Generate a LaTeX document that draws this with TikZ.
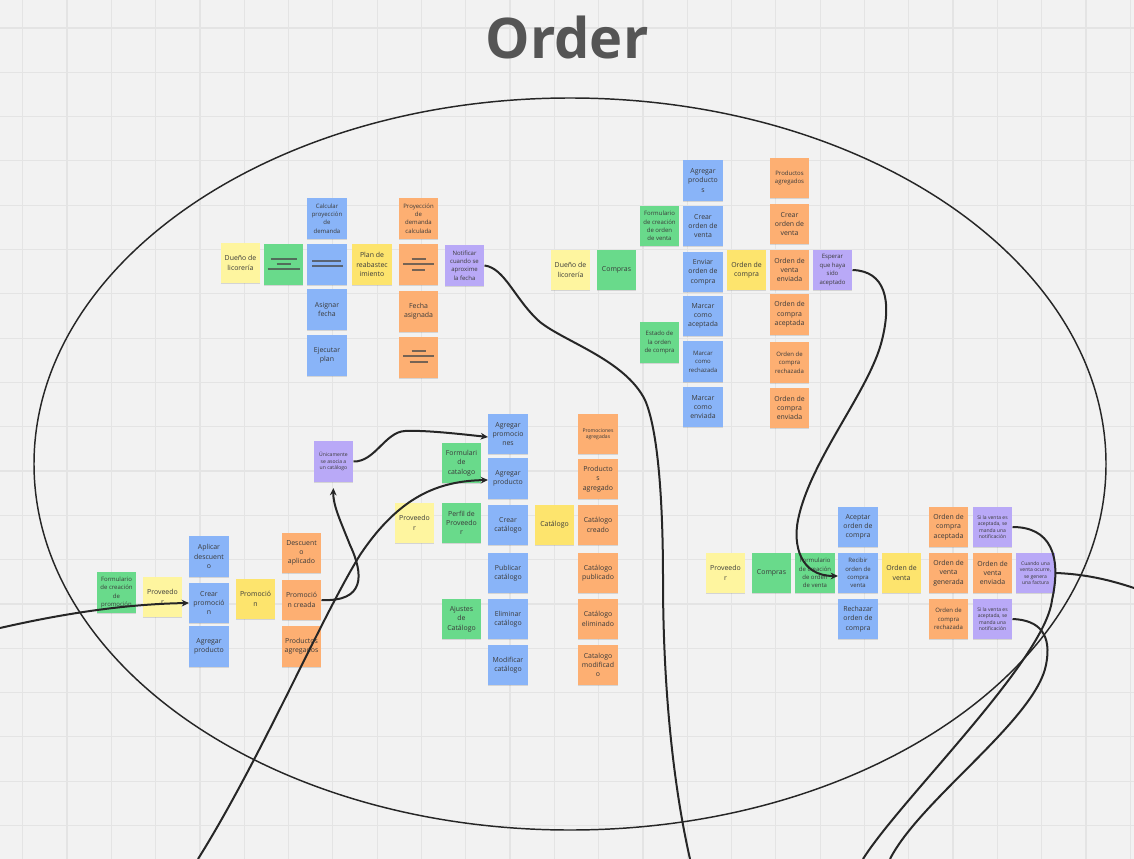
\documentclass[tikz,border=0pt]{standalone}
\usepackage{fontspec}
\setmainfont{Open Sans}
\usetikzlibrary{arrows.meta,calc,shadows}
\definecolor{bgc}{HTML}{F2F2F2}
\definecolor{gridc}{HTML}{E4E4E4}
\definecolor{titlec}{HTML}{555555}
\definecolor{txt}{HTML}{3A3A3A}
\definecolor{lyel}{HTML}{FEF59F}
\definecolor{yel}{HTML}{FDE46D}
\definecolor{grn}{HTML}{69DA8B}
\definecolor{blu}{HTML}{89B4F8}
\definecolor{ora}{HTML}{FDAF72}
\definecolor{pur}{HTML}{B9A9F7}
\definecolor{linec}{HTML}{262626}
\definecolor{iconc}{HTML}{4A4A4A}
\newcommand\stkN{\fontsize{5.2}{7}\selectfont}
\newcommand\stkS{\fontsize{4.5}{6.3}\selectfont}
\newcommand\stkT{\fontsize{3.8}{4.8}\selectfont}
\begin{document}
\begin{tikzpicture}[x=0.75pt,y=-0.75pt,
  stk/.style={rectangle, minimum width=29.6pt, minimum height=30.4pt, inner sep=0pt, align=center, text=txt, font=\stkN,
    drop shadow={shadow xshift=0pt, shadow yshift=-0.7pt, opacity=0.12, fill=black}},
  sm/.style={font=\stkS},
  tn/.style={font=\stkT},
  ly/.style={stk, fill=lyel},
  ye/.style={stk, fill=yel},
  gr/.style={stk, fill=grn},
  bl/.style={stk, fill=blu},
  or/.style={stk, fill=ora},
  pu/.style={stk, fill=pur},
  gridl/.style={draw=gridc, line width=0.9pt},
  iconl/.style={draw=iconc, line width=1.5pt, opacity=0.75},
  conn/.style={draw=linec, line width=1.5pt},
  arr/.style={conn, -{Stealth[length=5.5pt,width=5pt]}}
]
\fill[bgc] (0,0) rectangle (1134,859);
\useasboundingbox (0,0) rectangle (1134,859);
\clip (0,0) rectangle (1134,859);
\foreach \k in {0,...,25} \draw[gridl] ({22.7+44.3*\k},0) -- ({22.7+44.3*\k},859);
\foreach \k in {0,...,18} \draw[gridl] (0,{28+44.3*\k}) -- (1134,{28+44.3*\k});

\node[font=\fontsize{42}{42}\selectfont\bfseries, text=titlec, anchor=base, inner sep=0pt] (title) at (567,59) {Order};

\draw[draw=linec, line width=1.1pt] (570,464) ellipse [x radius=402pt, y radius=274.5pt];

% ---- top-left cluster
\node[ly] (dueno1) at (240.5,263) {Dueño de\\licorería};
\node[gr] (ic1) at (283.5,264.5) {};
\node[bl, sm] (calc) at (327,218.5) {Calcular\\proyección\\de\\demanda};
\node[bl] (ic2) at (327,264.5) {};
\node[bl] (asig) at (327,309.5) {Asignar\\fecha};
\node[bl] (ejec) at (327,355.5) {Ejecutar\\plan};
\node[ye] (plan) at (372,264.5) {Plan de\\reabastec\\imiento};
\node[or, sm] (proy) at (418.5,218.5) {Proyección\\de\\demanda\\calculada};
\node[or] (ic3) at (418.5,264.5) {};
\node[or] (fecha) at (418.5,311.5) {Fecha\\asignada};
\node[or] (ic4) at (418.5,357.5) {};
\node[pu, sm] (notif) at (464.5,265.5) {Notificar\\cuando se\\aproxime\\la fecha};

\draw[iconl] ($(ic1)+(-13,-6)$) -- ($(ic1)+(13,-6)$);
\draw[iconl] ($(ic1)+(-7,-0.7)$) -- ($(ic1)+(7,-0.7)$);
\draw[iconl] ($(ic1)+(-16,4.6)$) -- ($(ic1)+(16,4.6)$);
\draw[iconl] ($(ic2)+(-15,-3.8)$) -- ($(ic2)+(14,-3.8)$);
\draw[iconl] ($(ic2)+(-15,1.5)$) -- ($(ic2)+(16,1.5)$);
\draw[iconl] ($(ic3)+(-7,-5.5)$) -- ($(ic3)+(7,-5.5)$);
\draw[iconl] ($(ic3)+(-15.5,-0.5)$) -- ($(ic3)+(15.5,-0.5)$);
\draw[iconl] ($(ic3)+(-6.5,5.5)$) -- ($(ic3)+(6.5,5.5)$);
\draw[iconl] ($(ic4)+(-7,-6.5)$) -- ($(ic4)+(7,-6.5)$);
\draw[iconl] ($(ic4)+(-15.5,-1.5)$) -- ($(ic4)+(15.5,-1.5)$);
\draw[iconl] ($(ic4)+(-9,4.5)$) -- ($(ic4)+(9,4.5)$);

% ---- top-right cluster
\node[ly] (dueno2) at (570.5,270) {Dueño de\\licorería};
\node[gr] (compras1) at (616.5,270) {Compras};
\node[gr, sm] (formov1) at (659.5,226) {Formulario\\de creación\\de orden\\de venta};
\node[gr, sm] (estado) at (659.5,342.5) {Estado de\\la orden\\de compra};
\node[bl] (agrprods) at (703,180.5) {Agregar\\producto\\s};
\node[bl] (crearov) at (703,226) {Crear\\orden de\\venta};
\node[bl] (enviaroc) at (703,272) {Enviar\\orden de\\compra};
\node[bl] (mca) at (703,316) {Marcar\\como\\aceptada};
\node[bl, sm] (mcr) at (703,361.5) {Marcar\\como\\rechazada};
\node[bl] (mce) at (703,407) {Marcar\\como\\enviada};
\node[ye] (ordcompra) at (746.5,270) {Orden de\\compra};
\node[or, sm] (prodagr1) at (789.5,178) {Productos\\agregados};
\node[or] (ovcreada) at (789.5,224) {Crear\\orden de\\venta};
\node[or] (ovenv1) at (789.5,270) {Orden de\\venta\\enviada};
\node[or] (oca1) at (789.5,314.5) {Orden de\\compra\\aceptada};
\node[or, sm] (ocr1) at (789.5,362.5) {Orden de\\compra\\rechazada};
\node[or] (oce) at (789.5,408) {Orden de\\compra\\enviada};
\node[pu, sm] (esperar) at (832.5,270) {Esperar\\que haya\\sido\\aceptado};

% ---- middle cluster
\node[pu, tn] (unic) at (333.5,461.5) {Únicamente\\se asocia a\\un catálogo};
\node[gr] (formcat) at (461.5,463) {Formulari\\de\\catalogo};
\node[ly] (prov2) at (414.5,523) {Proveedo\\r};
\node[gr] (perfil) at (461.5,523) {Perfil de\\Proveedo\\r};
\node[gr] (ajustes) at (461.5,619) {Ajustes\\de\\Catálogo};
\node[bl] (agrprom) at (508,434) {Agregar\\promocio\\nes};
\node[bl] (agrprod) at (508,478.5) {Agregar\\producto};
\node[bl] (crearcat) at (508,525) {Crear\\catálogo};
\node[bl] (pubcat) at (508,573) {Publicar\\catálogo};
\node[bl] (elimcat) at (508,619) {Eliminar\\catálogo};
\node[bl] (modcat) at (508,665) {Modificar\\catálogo};
\node[ye] (catalogo) at (554.5,525) {Catálogo};
\node[or, tn] (promagr) at (598,434) {Promociones\\agregadas};
\node[or] (prodagr2) at (598,479) {Producto\\s\\agregado};
\node[or] (catcre) at (598,525) {Catálogo\\creado};
\node[or] (catpub) at (598,573) {Catálogo\\publicado};
\node[or] (catelim) at (598,619) {Catálogo\\eliminado};
\node[or] (catmod) at (598,665) {Catalogo\\modificad\\o};

% ---- bottom-left cluster
\node[gr, sm] (formpromo) at (116.5,592.5) {Formulario\\de creación\\de\\promoción};
\node[ly] (prov1) at (162.5,597) {Proveedo\\r};
\node[bl] (aplic) at (209,556.5) {Aplicar\\descuent\\o};
\node[bl] (crearpromo) at (209,603) {Crear\\promoció\\n};
\node[bl] (agrprod1) at (209,646.5) {Agregar\\producto};
\node[ye] (promo) at (255.5,599) {Promoció\\n};
\node[or] (descapl) at (301.5,553) {Descuent\\o\\aplicado};
\node[or] (promocre) at (301.5,600) {Promoció\\n creada};
\node[or] (prodagr3) at (301.5,646.5) {Productos\\agregados};

% ---- bottom-right cluster
\node[ly] (prov3) at (725.5,573) {Proveedo\\r};
\node[gr] (compras2) at (771.5,573) {Compras};
\node[gr, sm] (formov2) at (815,573) {Formulario\\de creación\\de orden\\de venta};
\node[bl] (aceptoc) at (858,527) {Aceptar\\orden de\\compra};
\node[bl, sm] (recibir) at (858,573) {Recibir\\orden de\\compra\\venta};
\node[bl] (rechoc) at (858,619) {Rechazar\\orden de\\compra};
\node[ye] (ordventa) at (901.5,573) {Orden de\\venta};
\node[or] (oca2) at (948.5,527) {Orden de\\compra\\aceptada};
\node[or] (ovgen) at (948.5,573) {Orden de\\venta\\generada};
\node[or, sm] (ocr2) at (948.5,619) {Orden de\\compra\\rechazada};
\node[pu, tn] (sila1) at (992.5,527) {Si la venta es\\aceptada, se\\manda una\\notificación};
\node[or] (ovenv2) at (992.5,573) {Orden de\\venta\\enviada};
\node[pu, tn] (sila2) at (992.5,619) {Si la venta es\\aceptada, se\\manda una\\notificación};
\node[pu, tn] (cuando) at (1035.5,573) {Cuando una\\venta ocurre,\\se genera\\una factura};

% ---- connectors
\coordinate (l1) at (0,628);
\coordinate (b1) at (198,859);
\coordinate (b2) at (690,859);
\coordinate (b3) at (863,859);
\coordinate (b4) at (890,859);
\coordinate (r1) at (1134,588);

\draw[arr] (l1) .. controls (70,612) and (130,604) .. (crearpromo.west);
\draw[arr, shorten >=4.5pt] (promocre.east) .. controls (365,602) and (364,575) .. (350,545) .. controls (340,520) and (333,505) .. (unic.south);
\draw[arr] (unic.east) .. controls (375,462) and (385,432) .. (405,431) .. controls (425,430) and (460,434) .. ($(agrprom.west)+(0,3)$);
\draw[arr] (b1) .. controls (260,760) and (320,620) .. (360,555) .. controls (400,495) and (440,481) .. ($(agrprod.west)+(0,1.5)$);
\draw[conn] (notif.east) .. controls (505,268) and (515,300) .. (540,322) .. controls (565,342) and (625,360) .. (645,400) .. controls (658,430) and (663,500) .. (663,580) .. controls (663,680) and (672,780) .. (b2);
\draw[arr] (esperar.east) .. controls (885,271) and (892,300) .. (882,340) .. controls (870,390) and (810,460) .. (798,520) .. controls (793,545) and (800,576) .. ($(recibir.west)+(0,3)$);
\draw[conn] (sila1.east) .. controls (1050,527) and (1062,555) .. (1052,600) .. controls (1045,660) and (900,800) .. (b3);
\draw[conn] (sila2.east) .. controls (1040,620) and (1052,635) .. (1046,665) .. controls (1035,720) and (920,800) .. (b4);
\draw[conn] (cuando.east) .. controls (1085,574) and (1110,580) .. (r1);
\end{tikzpicture}
\end{document}
